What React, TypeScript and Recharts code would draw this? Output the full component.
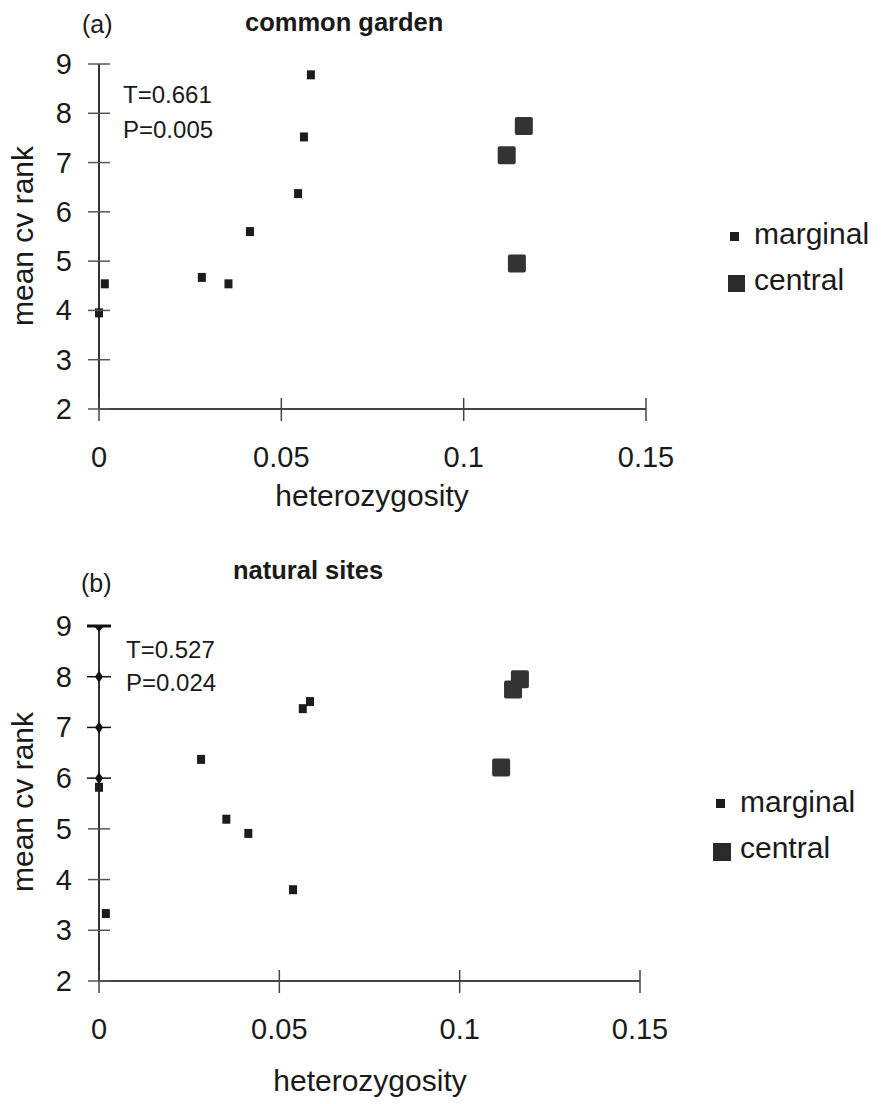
import React from 'react';
import { ScatterChart, Scatter, XAxis, YAxis, Legend } from 'recharts';

// ---- data ----
const xTicks = [0, 0.05, 0.1, 0.15];
const yTicks = [2, 3, 4, 5, 6, 7, 8, 9];

const gardenMarginalX = [0.0581, 0.0562, 0.0546, 0.0414, 0.0282, 0.0355, 0.0016, 0.0];
const gardenMarginalY = [8.78, 7.52, 6.37, 5.6, 4.67, 4.54, 4.54, 3.95];
const gardenCentralX = [0.1165, 0.1118, 0.1146];
const gardenCentralY = [7.74, 7.15, 4.95];

const naturalMarginalX = [0.0, 0.0283, 0.0565, 0.0585, 0.0353, 0.0414, 0.0538, 0.0019];
const naturalMarginalY = [5.82, 6.37, 7.37, 7.51, 5.19, 4.91, 3.8, 3.33];
const naturalCentralX = [0.1167, 0.1148, 0.1115];
const naturalCentralY = [7.95, 7.75, 6.21];

const seriesNames = ['marginal', 'central'];

const toPoints = (xs: number[], ys: number[]) => xs.map((x, i) => ({ x, y: ys[i] }));

const FONT = '"Liberation Sans", Arial, Helvetica, sans-serif';
const INK = '#1a1a1a';

const MarginalShape = (props: any) => {
  const { cx, cy } = props;
  if (cx == null || cy == null) return null;
  return <rect x={cx - 4} y={cy - 4.5} width={8} height={9} fill="#1c1c1c" />;
};
const CentralShape = (props: any) => {
  const { cx, cy } = props;
  if (cx == null || cy == null) return null;
  return <rect x={cx - 9} y={cy - 9} width={18} height={18} rx={2} fill="#333333" />;
};

const makeYTick = (special: boolean) => (props: any) => {
  const { x, y, payload } = props;
  const v = payload.value;
  const strong = special && v >= 6;
  return (
    <g>
      {strong && v === 9 ? (
        <g>
          <line x1={x - 12} x2={x + 12} y1={y} y2={y} stroke="#111" strokeWidth={3} />
          <path d={`M${x - 5} ${y} L${x} ${y + 6} L${x + 5} ${y} Z`} fill="#111" />
        </g>
      ) : strong ? (
        <g>
          <line x1={x - 12} x2={x + 12} y1={y} y2={y} stroke="#111" strokeWidth={1.5} />
          <path d={`M${x} ${y - 6} L${x + 4} ${y} L${x} ${y + 6} L${x - 4} ${y} Z`} fill="#111" />
        </g>
      ) : (
        <line x1={x - 11} x2={x + 11} y1={y} y2={y} stroke="#555" strokeWidth={1.5} />
      )}
      <text x={x - 27} y={y + 10} textAnchor="end" fontSize={29} fontFamily={FONT} fill={INK}>
        {v}
      </text>
    </g>
  );
};

const XTick = (props: any) => {
  const { x, y, payload } = props;
  return (
    <g>
      <line x1={x} x2={x} y1={y - 11} y2={y + 12} stroke="#444" strokeWidth={1.5} />
      <text x={x} y={y + 58} textAnchor="middle" fontSize={29} fontFamily={FONT} fill={INK}>
        {String(payload.value)}
      </text>
    </g>
  );
};

const makeLegend = (m: { mx: number; my: number; tx: number; tb1: number; cx: number; cy: number; cs: number; tb2: number }) => () => (
  <svg width={170} height={100} style={{ display: 'block', overflow: 'visible' }}>
    <rect x={m.mx} y={m.my} width={9} height={9} fill="#1c1c1c" />
    <text x={m.tx} y={m.tb1} fontSize={30} fontFamily={FONT} fill={INK}>{seriesNames[0]}</text>
    <rect x={m.cx} y={m.cy} width={m.cs} height={m.cs} fill="#2a2a2a" />
    <text x={m.tx} y={m.tb2} fontSize={30} fontFamily={FONT} fill={INK}>{seriesNames[1]}</text>
  </svg>
);

const legendA = makeLegend({ mx: 10, my: 17, tx: 34, tb1: 29, cx: 8, cy: 60, cs: 17, tb2: 75 });
const legendB = makeLegend({ mx: 11, my: 19, tx: 35, tb1: 32, cx: 8, cy: 63, cs: 18, tb2: 78 });

interface PanelProps {
  marginal: { x: number; y: number }[];
  central: { x: number; y: number }[];
  margin: { top: number; right: number; bottom: number; left: number };
  special: boolean;
  legend: () => React.ReactElement;
  legendPos: { left: number; top: number };
  tag: string;
  tagPos: [number, number];
  title: string;
  titlePos: [number, number];
  stats: string[];
  statsPos: [number, number, number];
  yLabelY: number;
  xLabelPos: [number, number];
}

const Panel = (p: PanelProps) => (
  <ScatterChart width={881} height={552} margin={p.margin}>
    <XAxis
      type="number"
      dataKey="x"
      domain={[0, 0.15]}
      ticks={xTicks}
      interval={0}
      tickSize={0}
      tickMargin={0}
      tickLine={false}
      tick={XTick}
      height={60}
      axisLine={{ stroke: '#444', strokeWidth: 2 }}
    />
    <YAxis
      type="number"
      dataKey="y"
      domain={[2, 9]}
      ticks={yTicks}
      interval={0}
      tickSize={0}
      tickMargin={0}
      tickLine={false}
      tick={makeYTick(p.special)}
      width={60}
      axisLine={{ stroke: '#333', strokeWidth: 2 }}
    />
    <Scatter name={seriesNames[0]} data={p.marginal} shape={MarginalShape} isAnimationActive={false} />
    <Scatter name={seriesNames[1]} data={p.central} shape={CentralShape} isAnimationActive={false} />
    <Legend
      layout="horizontal"
      verticalAlign="middle"
      align="center"
      content={p.legend}
      wrapperStyle={{ left: p.legendPos.left, top: p.legendPos.top, width: 170, height: 100 }}
    />
    <text x={p.tagPos[0]} y={p.tagPos[1]} fontSize={25} fontFamily={FONT} fill={INK}>{p.tag}</text>
    <text x={p.titlePos[0]} y={p.titlePos[1]} fontSize={25.5} fontWeight="bold" fontFamily={FONT} fill={INK}>{p.title}</text>
    <text x={p.statsPos[0]} y={p.statsPos[1]} fontSize={24} fontFamily={FONT} fill={INK}>{p.stats[0]}</text>
    <text x={p.statsPos[0]} y={p.statsPos[2]} fontSize={24} fontFamily={FONT} fill={INK}>{p.stats[1]}</text>
    <text
      x={33}
      y={p.yLabelY}
      transform={`rotate(-90, 33, ${p.yLabelY})`}
      textAnchor="middle"
      fontSize={30}
      fontFamily={FONT}
      fill={INK}
    >
      mean cv rank
    </text>
    <text x={p.xLabelPos[0]} y={p.xLabelPos[1]} textAnchor="middle" fontSize={30} fontFamily={FONT} fill={INK}>
      heterozygosity
    </text>
  </ScatterChart>
);

export default function App() {
  return (
    <div style={{ position: 'absolute', left: 0, top: 0, width: 881, height: 1104, background: '#fff' }}>
      <div style={{ position: 'absolute', left: 0, top: 0 }}>
        <Panel
          marginal={toPoints(gardenMarginalX, gardenMarginalY)}
          central={toPoints(gardenCentralX, gardenCentralY)}
          margin={{ top: 64, right: 235, bottom: 83, left: 39 }}
          special={false}
          legend={legendA}
          legendPos={{ left: 720, top: 215 }}
          tag="(a)"
          tagPos={[82, 33]}
          title="common garden"
          titlePos={[245, 31]}
          stats={['T=0.661', 'P=0.005']}
          statsPos={[123, 103, 138]}
          yLabelY={236}
          xLabelPos={[372, 506]}
        />
      </div>
      <div style={{ position: 'absolute', left: 0, top: 552 }}>
        <Panel
          marginal={toPoints(naturalMarginalX, naturalMarginalY)}
          central={toPoints(naturalCentralX, naturalCentralY)}
          margin={{ top: 74, right: 241, bottom: 63, left: 39 }}
          special={true}
          legend={legendB}
          legendPos={{ left: 705, top: 228 }}
          tag="(b)"
          tagPos={[81, 40]}
          title="natural sites"
          titlePos={[233, 27]}
          stats={['T=0.527', 'P=0.024']}
          statsPos={[126, 106, 139]}
          yLabelY={250}
          xLabelPos={[370, 539]}
        />
      </div>
    </div>
  );
}
